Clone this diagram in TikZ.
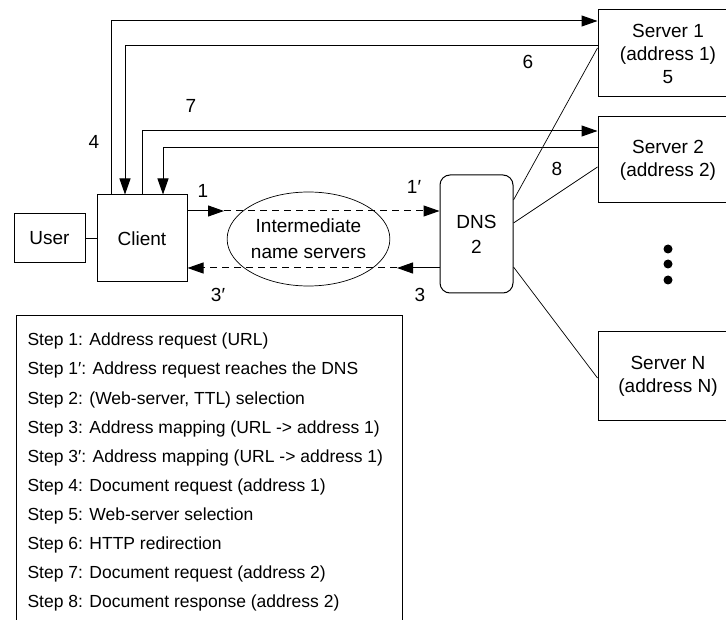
\documentclass[tikz,border=0pt]{standalone}
\usepackage{fontspec}
\setmainfont{Liberation Sans}
\usetikzlibrary{shapes.geometric, arrows.meta}

\tikzset{
  box/.style={rectangle, draw=black, line width=1pt, align=center, font=\fontsize{19}{23}\selectfont},
  srv/.style={box, minimum width=140pt},
  lbl/.style={font=\fontsize{19}{23}\selectfont},
  steptext/.style={anchor=base west, inner sep=0pt, font=\fontsize{17.5}{20}\selectfont},
  >={Triangle[length=16pt, width=11pt]}
}

\begin{document}
\begin{tikzpicture}[x=1pt, y=-1pt, line width=1pt]
\useasboundingbox (0,0) rectangle (726,620);
\clip (0,0) rectangle (726,620);

\node[box, minimum width=71pt, minimum height=49pt] (user) at (49.5,238.5) {User};
\node[box, minimum width=90pt, minimum height=87pt] (client) at (142,238.5) {Client};
\node[ellipse, draw=black, line width=0.7pt, inner sep=0pt, minimum width=159pt, minimum height=94pt, align=center, font=\fontsize{19}{26}\selectfont] (ins) at (308.5,239) {Intermediate\\name servers};
\node[box, rounded corners=10pt, minimum width=73pt, minimum height=118pt, font=\fontsize{19}{25}\selectfont] (dns) at (476.5,234) {DNS\\2};

\node[srv, minimum height=87pt] (server1) at (668,53.5) {Server 1\\(address 1)\\5};
\node[srv, minimum height=86pt] (server2) at (668,160) {Server 2\\(address 2)};
\node[srv, minimum height=88pt] (serverN) at (668,376) {Server N\\(address N)};

\fill (668,249) circle (4.5pt);
\fill (668,264) circle (4.5pt);
\fill (668,280) circle (4.5pt);

\draw (user) -- (client);

% client <-> dns through the intermediate servers
\coordinate (m1) at (224,211);
\coordinate (m3) at (397,268);
\draw[->] (client.east |- m1) -- (m1);
\draw[->, dash pattern=on 7pt off 5pt] (m1) -- (dns.west |- m1);
\draw[->] (dns.west |- m3) -- (m3);
\draw[->, dash pattern=on 7pt off 5pt] (m3) -- (client.east |- m3);

% client <-> servers
\draw[->] (client.north -| 111,0) |- (server1.west |- 0,21);
\draw[->] (server1.west |- 0,46) -| (client.north -| 125,0);
\draw[->] (client.north -| 142,0) |- (server2.west |- 0,131);
\draw[->] (server2.west |- 0,148) -| (client.north -| 163,0);

% dns <-> servers
\draw[line width=0.7pt] (dns.east |- 0,200) -- (server1.west |- 0,48);
\draw[line width=0.7pt] (dns.east |- 0,223) -- (server2.west |- 0,167);
\draw[line width=0.7pt] (dns.east |- 0,267) -- (serverN.west |- 0,378);

\node[lbl] (l1) at (203,191) {1};
\node[lbl] (l1p) at (414,187) {1′};
\node[lbl] (l3p) at (218,295) {3′};
\node[lbl] (l3) at (420,295) {3};
\node[lbl] (l4) at (94,142) {4};
\node[lbl] (l7) at (191,106) {7};
\node[lbl] (l6) at (528,62) {6};
\node[lbl] (l8) at (557,169) {8};

% legend
\node[rectangle, draw=black, line width=1pt, anchor=north west, minimum width=386pt, minimum height=330pt] (legend) at (16,315) {};
\node[steptext] (s1) at (27,346) {Step 1: Address request (URL)};
\node[steptext] (s1p) at (27,375) {Step 1′: Address request reaches the DNS};
\node[steptext] (s2) at (27,404) {Step 2: (Web-server, TTL) selection};
\node[steptext] (s3) at (27,433) {Step 3: Address mapping (URL -> address 1)};
\node[steptext] (s3p) at (27,462) {Step 3′: Address mapping (URL -> address 1)};
\node[steptext] (s4) at (27,491) {Step 4: Document request (address 1)};
\node[steptext] (s5) at (27,520) {Step 5: Web-server selection};
\node[steptext] (s6) at (27,549) {Step 6: HTTP redirection};
\node[steptext] (s7) at (27,578) {Step 7: Document request (address 2)};
\node[steptext] (s8) at (27,607) {Step 8: Document response (address 2)};
\end{tikzpicture}
\end{document}
